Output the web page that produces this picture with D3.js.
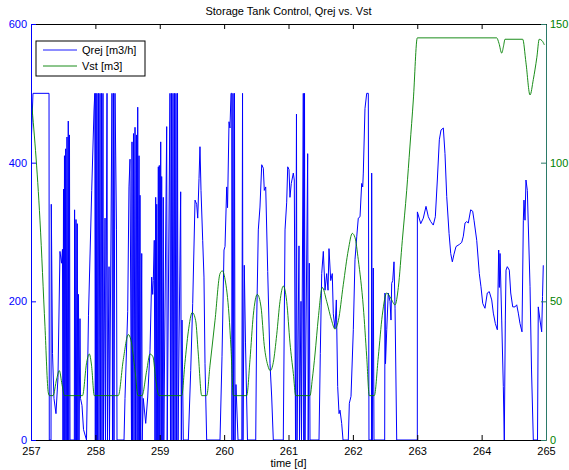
<!DOCTYPE html>
<html>
<head>
<meta charset="utf-8">
<script src="https://cdn.jsdelivr.net/npm/d3@7"></script>
<style>
body { margin: 0; background: #fff; }
svg { font-family: "Liberation Sans", Arial, Helvetica, sans-serif; }
</style>
</head>
<body>
<div id="chart"></div>
<script>
// ticks
var timeTicks = [257, 258, 259, 260, 261, 262, 263, 264, 265]
var qTicks = [0, 200, 400, 600]
var vTicks = [0, 50, 100, 150]

// Qrej [m3/h] : [time in days, value]
var qrejSeries = [
[257.000,420],[257.031,500],[257.280,500],[257.284,0],[257.311,0],[257.315,340],[257.334,125],[257.357,60],[257.388,38],[257.419,90],[257.450,272],[257.474,255],[257.489,275],[257.497,0],[257.505,362],[257.513,0],[257.520,410],[257.528,0],[257.539,420],[257.547,0],[257.559,437],[257.567,0],[257.579,460],[257.587,0],[257.598,440],[257.606,0],
[257.673,0],[257.677,332],[257.687,0],[257.699,318],[257.707,0],[257.719,312],[257.727,0],[257.738,210],[257.746,0],[257.761,175],[257.769,60],[257.792,50],[257.816,15],[257.862,0],[257.893,180],[257.943,360],[257.979,476],[257.991,500],[257.999,0],[258.007,500],[258.014,0],[258.025,500],[258.033,0],[258.049,500],[258.056,0],[258.072,500],[258.080,0],[258.095,500],[258.103,0],[258.118,500],[258.126,0],[258.150,320],[258.157,0],[258.181,500],[258.188,0],[258.212,250],[258.219,0],[258.258,500],[258.266,0],[258.282,500],[258.289,0],[258.305,500],[258.316,411],[258.328,303],[258.336,0],
[258.445,0],[258.460,60],[258.502,185],[258.522,365],[258.538,405],[258.561,0],[258.569,430],[258.577,0],[258.592,442],[258.600,0],[258.616,451],[258.623,0],[258.639,440],[258.647,0],[258.658,480],[258.665,0],[258.678,410],[258.685,0],[258.693,353],[258.701,0],[258.720,269],[258.727,0],[258.744,60],[258.782,24],[258.813,62],[258.849,130],[258.875,235],[258.891,210],[258.900,230],[258.915,288],[258.926,0],[258.937,350],[258.945,0],[258.953,340],[258.962,0],[258.978,394],[258.985,0],[258.993,396],[259.001,0],[259.015,430],[259.023,0],[259.030,380],[259.038,0],[259.055,350],[259.063,0],[259.108,452],[259.116,0],[259.159,500],[259.167,0],[259.183,500],[259.190,0],[259.206,500],[259.214,0],[259.229,500],[259.237,0],[259.252,500],[259.260,0],[259.276,500],[259.284,0],[259.325,358],[259.335,0],[259.346,173],[259.366,0],
[259.444,0],[259.481,100],[259.512,197],[259.548,346],[259.574,340],[259.590,320],[259.610,377],[259.625,423],[259.641,360],[259.667,288],[259.687,235],[259.703,110],[259.729,0],
[259.936,0],[259.967,120],[259.998,274],[260.014,279],[260.040,365],[260.053,335],[260.076,459],[260.091,450],[260.107,500],[260.118,500],[260.122,0],[260.138,500],[260.146,0],[260.161,500],[260.169,0],[260.184,80],[260.216,0],[260.275,0],[260.286,500],[260.293,0],[260.313,252],[260.332,140],[260.363,0],
[260.491,0],[260.506,173],[260.531,303],[260.557,336],[260.584,397],[260.609,392],[260.624,360],[260.646,365],[260.677,243],[260.713,110],[260.739,62],[260.764,0],
[260.919,0],[260.946,303],[260.972,343],[260.988,394],[261.008,390],[261.023,350],[261.043,370],[261.075,385],[261.090,375],[261.109,0],[261.124,470],[261.132,0],[261.163,280],[261.171,0],[261.194,200],[261.202,0],[261.230,500],[261.238,0],[261.249,500],[261.256,0],[261.298,413],[261.306,0],[261.323,255],[261.334,0],
[261.474,0],[261.494,125],[261.516,240],[261.541,272],[261.567,216],[261.593,240],[261.614,216],[261.629,276],[261.656,230],[261.680,240],[261.696,182],[261.722,161],[261.743,202],[261.764,77],[261.785,38],[261.800,43],[261.826,24],[261.847,0],
[261.929,0],[261.945,53],[261.971,63],[262.007,159],[262.033,260],[262.060,293],[262.084,320],[262.111,322],[262.137,370],[262.153,365],[262.162,385],[262.188,478],[262.215,500],[262.240,500],[262.250,0],[262.289,0],[262.292,385],[262.300,0],[262.317,248],[262.328,0],
[262.494,0],[262.499,212],[262.507,110],[262.526,159],[262.550,212],[262.577,200],[262.592,173],[262.603,226],[262.619,230],[262.639,257],[262.655,190],[262.681,0],
[263.001,0],[263.002,329],[263.054,312],[263.094,320],[263.136,337],[263.172,322],[263.209,315],[263.249,310],[263.281,322],[263.312,375],[263.343,433],[263.369,447],[263.405,450],[263.431,413],[263.458,351],[263.494,298],[263.520,269],[263.545,257],[263.571,268],[263.602,279],[263.653,282],[263.691,285],[263.716,294],[263.742,313],[263.768,315],[263.793,313],[263.830,332],[263.861,330],[263.882,317],[263.924,288],[263.964,240],[263.990,221],[264.017,197],[264.052,190],[264.088,212],[264.119,214],[264.157,202],[264.182,183],[264.213,168],[264.244,159],[264.265,274],[264.275,220],[264.286,269],[264.312,173],[264.337,77],[264.352,0],[264.368,173],[264.379,245],[264.399,250],[264.430,245],[264.452,212],[264.483,192],[264.519,192],[264.545,195],[264.570,183],[264.596,168],[264.627,156],[264.648,317],[264.658,346],[264.674,317],[264.689,375],[264.710,360],[264.752,221],[264.775,101],[264.803,0],[264.868,0],[264.880,192],[264.907,173],[264.933,156],[264.946,207],[264.958,252]
]

// Vst [m3] : [time in days, value]
var vstSeries = [
[257.000,124],[257.140,79],[257.217,41],[257.269,17],[257.287,16],[257.342,16],[257.399,22],[257.440,25],[257.482,20],[257.520,16],[257.800,16],[257.865,28],[257.906,31],[257.940,27],[257.983,16],[258.356,16],[258.434,29],[258.511,38],[258.553,36],[258.616,25],[258.662,16],[258.724,16],[258.797,25],[258.849,31],[258.895,30],[258.937,22],[258.988,16],[259.341,16],[259.392,28],[259.443,39],[259.506,46],[259.558,43],[259.599,31],[259.652,16],[259.729,16],[259.781,27],[259.858,43],[259.936,60],[259.972,61],[260.014,58],[260.076,45],[260.107,33],[260.143,16],[260.351,16],[260.402,29],[260.453,45],[260.515,52.5],[260.573,48],[260.624,34],[260.677,27],[260.717,25],[260.764,28],[260.817,38],[260.868,50],[260.919,55.5],[260.972,50],[261.023,35],[261.075,24],[261.112,16],[261.334,16],[261.370,22],[261.412,31],[261.463,44],[261.525,55],[261.593,50],[261.671,43],[261.722,40],[261.774,43],[261.851,56],[261.929,68.5],[261.991,74.5],[262.033,73],[262.084,65],[262.162,48],[262.215,30],[262.255,16],[262.333,16],[262.395,30],[262.457,45],[262.526,53],[262.592,51],[262.655,48.7],[262.706,55],[262.768,72],[262.836,90],[262.887,106],[262.939,122.6],[263.001,145],[264.234,145],[264.270,143],[264.312,139.5],[264.340,142],[264.363,144.5],[264.638,144.5],[264.689,136],[264.752,124.4],[264.803,130],[264.858,138],[264.895,144.5],[264.938,144],[264.974,142.5]
]

var blue = "#0000ff"
var green = "#008000"

var W = 569, H = 470
var pLeft = 31, pRight = 546, pTop = 24, pBottom = 440

var x = d3.scaleLinear().domain([257, 265]).range([pLeft, pRight])
var yQ = d3.scaleLinear().domain([0, 600]).range([pBottom, pTop])
var yV = d3.scaleLinear().domain([0, 150]).range([pBottom, pTop])

var svg = d3.select("#chart").append("svg").attr("width", W).attr("height", H)
svg.append("rect").attr("width", W).attr("height", H).attr("fill", "#fff")

svg.append("defs").append("clipPath").attr("id", "clip")
  .append("rect").attr("x", pLeft).attr("y", pTop).attr("width", pRight - pLeft).attr("height", pBottom - pTop)

var qLine = d3.line().x(function(d){ return x(d[0]) }).y(function(d){ return yQ(d[1]) })
var vLine = d3.line().x(function(d){ return x(d[0]) }).y(function(d){ return yV(d[1]) }).curve(d3.curveMonotoneX)

svg.append("path").datum(qrejSeries)
  .attr("clip-path", "url(#clip)")
  .attr("fill", "none").attr("stroke", blue).attr("stroke-width", 1)
  .attr("d", qLine)

svg.append("path").datum(vstSeries)
  .attr("clip-path", "url(#clip)")
  .attr("fill", "none").attr("stroke", green).attr("stroke-width", 0.9)
  .attr("d", vLine)

function styleAxis(g, col, lineCol) {
  g.attr("font-family", null).attr("font-size", 11)
  g.select(".domain").attr("stroke", lineCol)
  g.selectAll(".tick line").attr("stroke", lineCol)
  g.selectAll(".tick text").attr("fill", col)
}

var gTop = svg.append("g").attr("transform", "translate(0," + pTop + ")")
  .call(d3.axisTop(x).tickValues(timeTicks).tickFormat("").tickSizeInner(-5).tickSizeOuter(0))
styleAxis(gTop, "#000", "#000")

var gBottom = svg.append("g").attr("transform", "translate(0," + pBottom + ")")
  .call(d3.axisBottom(x).tickValues(timeTicks).tickFormat(d3.format("d")).tickSizeInner(-5).tickSizeOuter(0).tickPadding(7))
styleAxis(gBottom, "#000", "#000")

var gLeft = svg.append("g").attr("transform", "translate(" + pLeft + ",0)")
  .call(d3.axisLeft(yQ).tickValues(qTicks).tickFormat(d3.format("d")).tickSizeInner(-5).tickSizeOuter(0).tickPadding(4))
styleAxis(gLeft, blue, blue)

var gRight = svg.append("g").attr("transform", "translate(" + pRight + ",0)")
  .call(d3.axisRight(yV).tickValues(vTicks).tickFormat(d3.format("d")).tickSizeInner(-5).tickSizeOuter(0).tickPadding(4))
styleAxis(gRight, green, "#2b7a68")

// title and label
svg.append("text").text("Storage Tank Control, Qrej vs. Vst")
  .attr("x", (pLeft + pRight) / 2).attr("y", 15)
  .attr("text-anchor", "middle").attr("font-size", 11)

svg.append("text").text("time [d]")
  .attr("x", (pLeft + pRight) / 2).attr("y", 467)
  .attr("text-anchor", "middle").attr("font-size", 11)

// legend
var legend = svg.append("g")
legend.append("rect").attr("x", 36).attr("y", 41).attr("width", 109).attr("height", 35)
  .attr("fill", "#fff").attr("stroke", "#000").attr("stroke-width", 1)
var entries = [["Qrej [m3/h]", blue], ["Vst [m3]", green]]
entries.forEach(function(e, i){
  var ly = 50 + i * 16
  legend.append("line").attr("x1", 43).attr("x2", 77).attr("y1", ly).attr("y2", ly)
    .attr("stroke", e[1]).attr("stroke-width", 0.9)
  legend.append("text").text(e[0]).attr("x", 82).attr("y", ly + 4).attr("font-size", 11)
})
</script>
</body>
</html>
